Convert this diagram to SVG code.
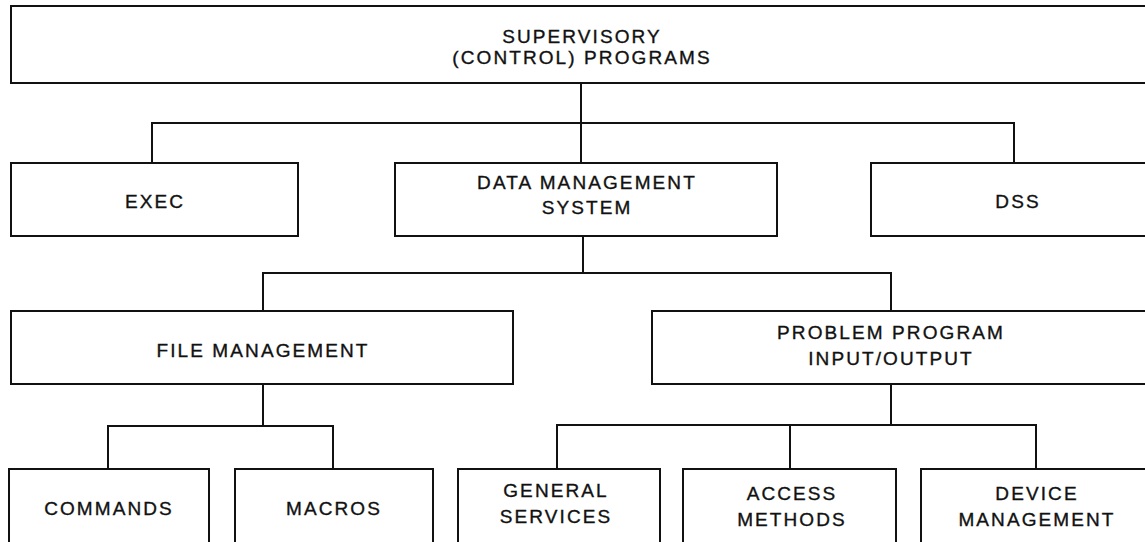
<svg xmlns="http://www.w3.org/2000/svg" width="1145" height="542" viewBox="0 0 1145 542">
  <style>
    .box { fill: #ffffff; stroke: #111111; stroke-width: 2; }
    .wire { fill: none; stroke: #111111; stroke-width: 2; }
    .label { font-family: "Liberation Sans", Arial, sans-serif; font-size: 19px; letter-spacing: 2.1px; fill: #111111; stroke: #111111; stroke-width: 0.35; text-anchor: middle; }
  </style>
  <rect x="0" y="0" width="1145" height="542" fill="#ffffff"/>

  <!-- tree connectors -->
  <g id="connectors" class="wire">
    <path d="M581,83 V163"/>
    <path d="M152,163 V123 H1014 V163"/>
    <path d="M583,236 V273"/>
    <path d="M263,311 V273 H891 V311"/>
    <path d="M263,384 V426"/>
    <path d="M108,469 V426 H333 V469"/>
    <path d="M891,384 V425"/>
    <path d="M557,469 V425 H1036 V469"/>
    <path d="M790,425 V469"/>
  </g>

  <g id="supervisory">
    <rect class="box" x="11" y="6" width="1140" height="77"/>
    <text class="label" x="582" y="43">SUPERVISORY</text>
    <text class="label" x="582" y="64">(CONTROL) PROGRAMS</text>
  </g>

  <g id="exec">
    <rect class="box" x="11" y="163" width="287" height="73"/>
    <text class="label" x="155" y="208">EXEC</text>
  </g>

  <g id="data-management-system">
    <rect class="box" x="395" y="163" width="382" height="73"/>
    <text class="label" x="587" y="189">DATA MANAGEMENT</text>
    <text class="label" x="587" y="214">SYSTEM</text>
  </g>

  <g id="dss">
    <rect class="box" x="871" y="163" width="292" height="73"/>
    <text class="label" x="1018" y="208">DSS</text>
  </g>

  <g id="file-management">
    <rect class="box" x="11" y="311" width="502" height="73"/>
    <text class="label" x="263" y="357">FILE MANAGEMENT</text>
  </g>

  <g id="problem-program-io">
    <rect class="box" x="652" y="311" width="500" height="73"/>
    <text class="label" x="891" y="339">PROBLEM PROGRAM</text>
    <text class="label" x="891" y="365">INPUT/OUTPUT</text>
  </g>

  <g id="commands">
    <rect class="box" x="9" y="469" width="200" height="80"/>
    <text class="label" x="109" y="515">COMMANDS</text>
  </g>

  <g id="macros">
    <rect class="box" x="235" y="469" width="198" height="80"/>
    <text class="label" x="334" y="515">MACROS</text>
  </g>

  <g id="general-services">
    <rect class="box" x="458" y="469" width="202" height="80"/>
    <text class="label" x="556" y="497">GENERAL</text>
    <text class="label" x="556" y="523">SERVICES</text>
  </g>

  <g id="access-methods">
    <rect class="box" x="683" y="469" width="213" height="80"/>
    <text class="label" x="792" y="500">ACCESS</text>
    <text class="label" x="792" y="526">METHODS</text>
  </g>

  <g id="device-management">
    <rect class="box" x="921" y="469" width="230" height="80"/>
    <text class="label" x="1037" y="500">DEVICE</text>
    <text class="label" x="1037" y="526">MANAGEMENT</text>
  </g>
</svg>
